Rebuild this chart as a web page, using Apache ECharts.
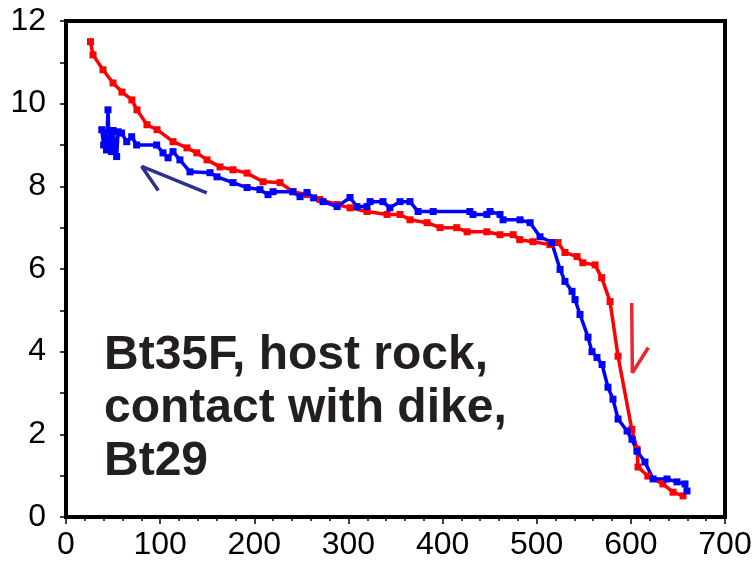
<!DOCTYPE html>
<html>
<head>
<meta charset="utf-8">
<script src="https://cdn.jsdelivr.net/npm/echarts@6/dist/echarts.min.js"></script>
<style>
  html, body { margin: 0; padding: 0; background: #fff; }
  #chart { width: 755px; height: 576px; }
</style>
</head>
<body>
<div id="chart"></div>
<script>
// red curve: host rock (step temperature vs value)
const redX = [26, 28.7, 39.3, 50, 59.5, 70, 75.4, 86, 96.7, 113.7, 128.5, 139, 149.8, 163.6, 177.4, 192.3, 209.3, 227.3, 241.1, 256, 269.8, 287.9, 301.7, 319.7, 341, 354.8, 365.4, 383.5, 397.3, 415, 426, 447, 461, 475, 482, 496, 514, 522.6, 530, 542.8, 549, 562, 569, 577.9, 586.4, 601, 606.6, 607.6, 618, 634, 644.8, 655.4];
const redY = [11.5, 11.18, 10.82, 10.5, 10.28, 10.09, 9.85, 9.49, 9.37, 9.08, 8.93, 8.81, 8.64, 8.47, 8.4, 8.32, 8.11, 8.09, 7.87, 7.8, 7.68, 7.56, 7.48, 7.39, 7.32, 7.32, 7.19, 7.12, 7.0, 7.0, 6.9, 6.9, 6.83, 6.83, 6.71, 6.66, 6.59, 6.64, 6.4, 6.3, 6.15, 6.1, 5.79, 5.21, 3.89, 2.12, 1.64, 1.21, 0.99, 0.8, 0.6, 0.51];

// blue curve: Bt29
const blueX = [38, 40, 42, 43, 44.6, 46, 47, 48.5, 50, 53.8, 55.3, 59, 64.5, 69.8, 75, 96.3, 103, 108.4, 113.7, 121, 131.7, 153, 160.4, 177.4, 192.3, 206, 214.6, 220, 241, 248.6, 256, 263, 273, 288, 301.7, 309, 319.7, 323, 336.7, 344, 354.8, 365.4, 374, 390, 429, 432.3, 447, 450.4, 461, 464.2, 482.3, 493, 503.5, 516, 524.8, 530, 537.5, 540.7, 546, 554.5, 558.7, 564, 569.4, 575.7, 581, 586.4, 596, 601.2, 606.6, 615, 623.6, 638.4, 649, 657.5, 659.6];
const blueY = [9.37, 9.0, 9.3, 8.88, 9.85, 8.9, 9.29, 8.84, 9.35, 8.72, 9.32, 9.29, 9.08, 9.2, 9.0, 9.0, 8.81, 8.69, 8.84, 8.64, 8.35, 8.33, 8.23, 8.09, 7.97, 7.92, 7.8, 7.87, 7.87, 7.75, 7.85, 7.72, 7.63, 7.51, 7.73, 7.51, 7.51, 7.63, 7.63, 7.48, 7.63, 7.63, 7.39, 7.39, 7.39, 7.32, 7.32, 7.39, 7.32, 7.19, 7.19, 7.12, 6.78, 6.64, 5.99, 5.7, 5.46, 5.26, 4.9, 4.35, 4.0, 3.86, 3.69, 3.14, 2.85, 2.37, 2.08, 1.88, 1.59, 1.33, 0.92, 0.92, 0.85, 0.8, 0.63];

// hand-drawn arrows
const navyArrowX = [149.5, 80.4, 98];
const navyArrowY = [7.84, 8.48, 7.9];
const redArrowX = [600.9, 601.6, 618.6];
const redArrowY = [5.18, 3.49, 4.1];

const xTicks = [0, 100, 200, 300, 400, 500, 600, 700];
const yTicks = [0, 2, 4, 6, 8, 10, 12];

const label = 'Bt35F, host rock,\ncontact with dike,\nBt29';

const zip = (xs, ys) => xs.map((x, i) => [x, ys[i]]);

const tickFont = "'Liberation Sans Narrow', 'Arial Narrow', 'Liberation Sans', sans-serif";

const chart = echarts.init(document.getElementById('chart'));

chart.setOption({
  animation: false,
  backgroundColor: '#fff',
  grid: {
    left: 66, right: 30, top: 21, bottom: 59,
    show: true,
    borderColor: '#000',
    borderWidth: 4,
    backgroundColor: 'transparent'
  },
  xAxis: {
    type: 'value',
    min: xTicks[0],
    max: xTicks[xTicks.length - 1],
    interval: 100,
    axisLine: { show: true, onZero: false, lineStyle: { color: '#000', width: 4 } },
    axisTick: { show: true, length: 7, lineStyle: { color: '#000', width: 1.5 } },
    minorTick: { show: true, splitNumber: 5, length: 4, lineStyle: { color: '#000', width: 1.5 } },
    splitLine: { show: false },
    axisLabel: { color: '#000', fontSize: 32, margin: 12, fontFamily: tickFont }
  },
  yAxis: {
    type: 'value',
    min: yTicks[0],
    max: yTicks[yTicks.length - 1],
    interval: 2,
    axisLine: { show: true, onZero: false, lineStyle: { color: '#000', width: 4 } },
    axisTick: { show: true, length: 6, lineStyle: { color: '#000', width: 1.5 } },
    minorTick: { show: true, splitNumber: 2, length: 6, lineStyle: { color: '#000', width: 1.5 } },
    splitLine: { show: false },
    axisLabel: { color: '#000', fontSize: 32, margin: 20, fontFamily: tickFont }
  },
  graphic: [{
    type: 'text',
    left: 104,
    top: 329,
    style: {
      text: label,
      fill: '#231f20',
      font: "bold 48px 'Liberation Sans', Arial, sans-serif",
      lineHeight: 53
    }
  }],
  series: [
    {
      type: 'line',
      data: zip(redX, redY),
      symbol: 'rect',
      symbolSize: 7,
      lineStyle: { color: '#ff0000', width: 3.5 },
      itemStyle: { color: '#ff0000' }
    },
    {
      type: 'line',
      data: zip(blueX, blueY),
      symbol: 'rect',
      symbolSize: 7,
      lineStyle: { color: '#0000ff', width: 3.5 },
      itemStyle: { color: '#0000ff' }
    },
    {
      type: 'line',
      data: zip(navyArrowX, navyArrowY),
      symbol: 'none',
      lineStyle: { color: '#2e3192', width: 3.5 }
    },
    {
      type: 'line',
      data: zip(redArrowX, redArrowY),
      symbol: 'none',
      lineStyle: { color: '#ec2530', width: 3.5 }
    }
  ]
});
</script>
</body>
</html>
